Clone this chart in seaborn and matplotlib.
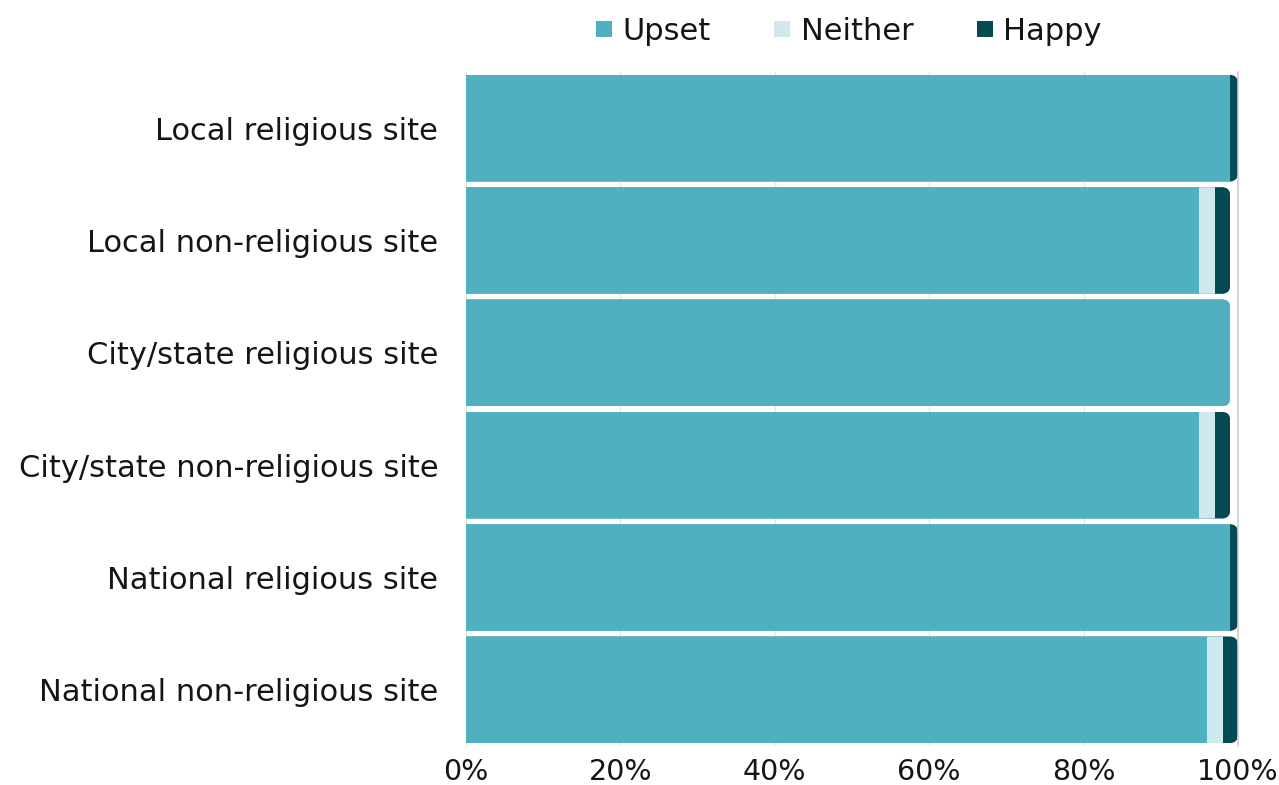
import numpy as np
import pandas as pd
import seaborn as sns
import matplotlib.pyplot as plt
from matplotlib.patches import FancyBboxPatch
from matplotlib.lines import Line2D
from matplotlib.ticker import FuncFormatter

# Survey responses: share of respondents (%) per site type
sites = [
    "Local religious site",
    "Local non-religious site",
    "City/state religious site",
    "City/state non-religious site",
    "National religious site",
    "National non-religious site",
]
upset = [99, 95, 99, 95, 99, 96]
neither = [0, 2, 0, 2, 0, 2]
happy = [1, 2, 0, 2, 1, 2]
x_ticks = [0, 20, 40, 60, 80, 100]
legend_labels = ["Upset", "Neither", "Happy"]

UPSET_C = "#4FB0C0"
NEITHER_C = "#CDE9EE"
HAPPY_C = "#034A53"

df = pd.DataFrame({"site": sites, "upset": upset, "neither": neither, "happy": happy})
df["upset_end"] = df["upset"]
df["neither_end"] = df["upset"] + df["neither"]
df["happy_end"] = df["upset"] + df["neither"] + df["happy"]

sns.set_theme(style="white")
plt.rcParams["font.family"] = ["DejaVu Sans"]
TEXT_C = "#151515"

fig = plt.figure(figsize=(12.79, 7.85), dpi=100)
ax_top, ax_bot = 72, 746
ax = fig.add_axes([466 / 1279, (785 - ax_bot) / 785, (1238 - 466) / 1279, (ax_bot - ax_top) / 785])

# Stacked bars: draw cumulative totals back to front
for col, color in [("happy_end", HAPPY_C), ("neither_end", NEITHER_C), ("upset_end", UPSET_C)]:
    sns.barplot(data=df, y="site", x=col, color=color, orient="h", width=0.95,
                saturation=1, linewidth=0, errorbar=None, ax=ax)

ax.set_xlim(0, 100)
ax.set_ylim(len(sites) - 0.5, -0.5)

# Round the right-hand end of every stacked bar
px_x = (1238 - 466) / 100.0
px_y = (ax_bot - ax_top) / len(sites)
radius = 8.5 / px_x
aspect = (8.5 / px_y) / radius
clips = []
for i, total in enumerate(df["happy_end"]):
    clip = FancyBboxPatch((-10, i - 0.475), total + 10, 0.95,
                          boxstyle=f"round,pad=0,rounding_size={radius}",
                          mutation_aspect=aspect, transform=ax.transData)
    clips.append(clip)
for p in ax.patches:
    row = int(round(p.get_y() + p.get_height() / 2))
    p.set_clip_path(clips[row])

ax.set_xticks(x_ticks)
ax.xaxis.set_major_formatter(FuncFormatter(lambda v, _: f"{v:.0f}%"))
ax.xaxis.grid(True, color="#e4e4e4", lw=1)
ax.set_axisbelow(True)
for s in ["top", "left", "bottom"]:
    ax.spines[s].set_visible(False)
ax.spines["right"].set_color("#cfcfcf")
ax.spines["right"].set_linewidth(1.2)

ax.set_xlabel("")
ax.set_ylabel("")
ax.tick_params(axis="y", length=0, pad=20, labelsize=22, labelcolor=TEXT_C)
ax.tick_params(axis="x", length=0, pad=9, labelsize=20.5, labelcolor=TEXT_C)

handles = [Line2D([0], [0], marker="s", linestyle="", markersize=11,
                  markerfacecolor=c, markeredgewidth=0)
           for c in [UPSET_C, NEITHER_C, HAPPY_C]]
fig.legend(handles, legend_labels, loc="center", ncol=3, frameon=False,
           bbox_to_anchor=(846 / 1279, 1 - 31 / 785), fontsize=22,
           handletextpad=0.15, columnspacing=1.9, labelcolor=TEXT_C,
           handlelength=0.9)

fig.savefig("out.png", dpi=100)
